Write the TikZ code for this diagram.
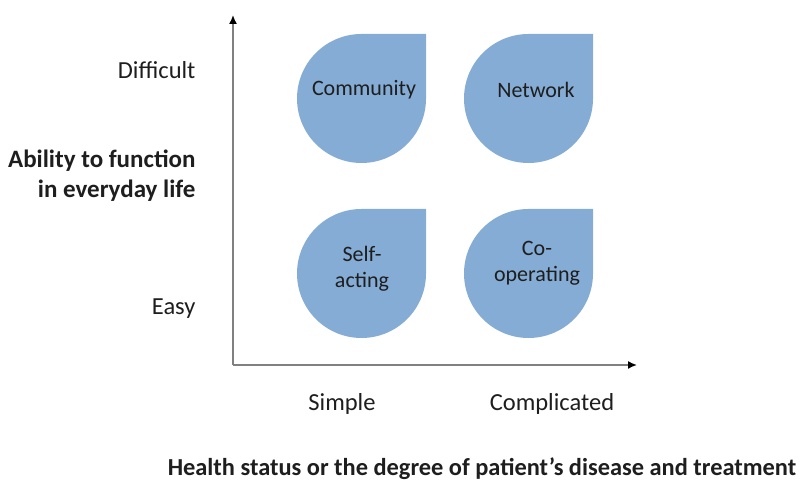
\documentclass[tikz,border=0pt]{standalone}
\usepackage{fontspec}
\setmainfont{Carlito}
\usetikzlibrary{arrows.meta}
\definecolor{dropblue}{RGB}{132,172,212}
\definecolor{axisgrey}{RGB}{128,128,128}
\definecolor{inkgrey}{RGB}{30,30,30}
\begin{document}
\begin{tikzpicture}[x=1pt, y=1pt, every node/.style={font=\fontsize{24.5}{30}\selectfont, text=inkgrey},
    droptext/.style={font=\fontsize{22}{26}\selectfont, align=center}]
  \def\R{64.5} % radius of a drop

  \useasboundingbox (0,0) rectangle (806,481);

  % axes
  \coordinate (origin) at (233,116);
  \coordinate (ytop) at (233,466);
  \coordinate (xend) at (637,116);
  \draw[axisgrey, line width=1.6pt, -{Latex[black,length=9pt,width=8pt]}] (origin) -- (ytop);
  \draw[axisgrey, line width=1.6pt, -{Latex[black,length=9pt,width=8pt]}] (origin) -- (xend);

  % the four drops (sharp corner top right)
  \foreach \cx/\cy in {361.5/382.5, 528.5/382.5, 361.5/207.5, 528.5/207.5}
    \fill[dropblue] (\cx+\R,\cy+\R) -- (\cx+\R,\cy)
      arc[start angle=0, end angle=-270, radius=\R] -- cycle;

  \node[droptext] (community) at (364,391) {Community};
  \node[droptext] (network) at (536,391) {Network};
  \node[droptext] (selfacting) at (362,212) {Self-\\acting};
  \node[droptext] (cooperating) at (537,218) {Co-\\operating};

  % axis labels
  \node[anchor=east] (difficult) at (199,411) {Difficult};
  \node[anchor=east] (easy) at (199,172) {Easy};
  \node[anchor=east, align=right, font=\fontsize{25}{30}\selectfont\bfseries] (ability) at (199,305) {Ability to function\\in everyday life};
  \node (simple) at (342,77) {Simple};
  \node (complicated) at (552,77) {Complicated};
  \node[font=\fontsize{24.4}{30}\selectfont\bfseries] (health) at (482,12) {Health status or the degree of patient’s disease and treatment};

\end{tikzpicture}
\end{document}
